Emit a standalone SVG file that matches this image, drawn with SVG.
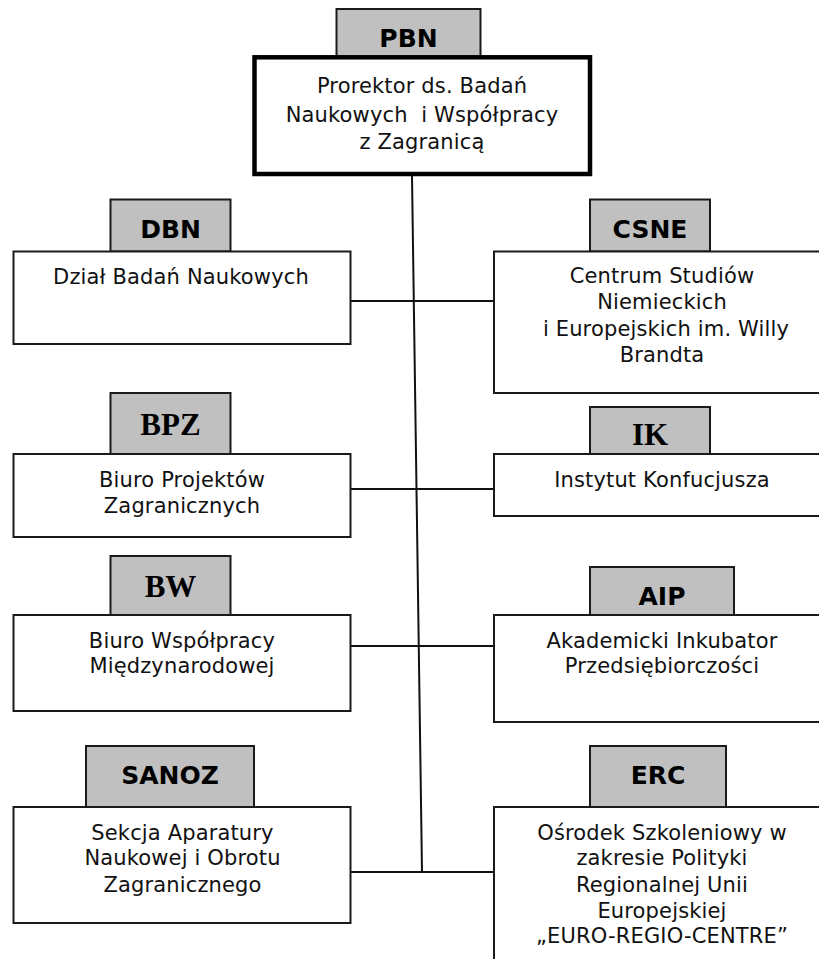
<svg xmlns="http://www.w3.org/2000/svg" width="819" height="959" viewBox="0 0 819 959">
<style>
.box{fill:#fff;stroke:#1a1a1a;stroke-width:2}
.tag{fill:#c0c0c0;stroke:#1a1a1a;stroke-width:2}
.main{fill:#fff;stroke:#000;stroke-width:4.5}
.t{font-family:"DejaVu Sans","Verdana",sans-serif;font-size:21px;letter-spacing:0.15px;fill:#111;text-anchor:middle}
.b{font-family:"DejaVu Sans","Verdana",sans-serif;font-size:25px;font-weight:bold;fill:#000;text-anchor:middle}
.s{font-family:"Liberation Serif","Times New Roman",serif;font-size:31px;font-weight:bold;fill:#000;text-anchor:middle}
.c{stroke:#111;stroke-width:2;fill:none}
</style>
<rect width="819" height="959" fill="#fff"/>
<g id="connectors">
<line class="c" x1="412" y1="176" x2="422" y2="872"/>
<line class="c" x1="350.5" y1="301" x2="494" y2="301"/>
<line class="c" x1="350.5" y1="489" x2="494" y2="489"/>
<line class="c" x1="350.5" y1="646" x2="494" y2="646"/>
<line class="c" x1="350.5" y1="872" x2="494" y2="872"/>
</g>
<g id="PBN">
<rect class="tag" x="336.5" y="9" width="144" height="48"/>
<text class="b" x="408.5" y="46.5">PBN</text>
<rect class="main" x="254.5" y="57.3" width="335.5" height="116.7"/>
<text class="t" x="422" y="93" xml:space="preserve">Prorektor ds. Badań</text>
<text class="t" x="422" y="121.5" xml:space="preserve">Naukowych  i Współpracy</text>
<text class="t" x="422" y="149">z Zagranicą</text>
</g>
<g id="DBN">
<rect class="tag" x="110.5" y="199.5" width="120" height="52"/>
<text class="b" x="170.5" y="237.5">DBN</text>
<rect class="box" x="13.5" y="251.5" width="337" height="92.5"/>
<text class="t" x="181" y="284">Dział Badań Naukowych</text>
</g>
<g id="CSNE">
<rect class="tag" x="590" y="199.5" width="120" height="52"/>
<text class="b" x="650" y="237.5">CSNE</text>
<rect class="box" x="494" y="251.5" width="345" height="141.5"/>
<text class="t" x="662" y="283">Centrum Studiów</text>
<text class="t" x="662" y="309">Niemieckich</text>
<text class="t" x="666" y="335.5">i Europejskich im. Willy</text>
<text class="t" x="662" y="361.5">Brandta</text>
</g>
<g id="BPZ">
<rect class="tag" x="110.5" y="393" width="120" height="61"/>
<text class="s" x="170.5" y="435">BPZ</text>
<rect class="box" x="13.5" y="454" width="337" height="83"/>
<text class="t" x="182" y="486.5">Biuro Projektów</text>
<text class="t" x="182" y="512.5">Zagranicznych</text>
</g>
<g id="IK">
<rect class="tag" x="590" y="407" width="120" height="47"/>
<text class="s" x="650" y="445">IK</text>
<rect class="box" x="494" y="454" width="345" height="62"/>
<text class="t" x="662" y="486.5">Instytut Konfucjusza</text>
</g>
<g id="BW">
<rect class="tag" x="110.5" y="556" width="120" height="59"/>
<text class="s" x="170.5" y="596.5">BW</text>
<rect class="box" x="13.5" y="615" width="337" height="96"/>
<text class="t" x="182" y="648">Biuro Współpracy</text>
<text class="t" x="182" y="673">Międzynarodowej</text>
</g>
<g id="AIP">
<rect class="tag" x="590" y="567" width="144" height="48"/>
<text class="b" x="662" y="605">AIP</text>
<rect class="box" x="494" y="615" width="345" height="107"/>
<text class="t" x="662" y="648">Akademicki Inkubator</text>
<text class="t" x="662" y="672.5">Przedsiębiorczości</text>
</g>
<g id="SANOZ">
<rect class="tag" x="86" y="746" width="168" height="61"/>
<text class="b" x="170" y="784">SANOZ</text>
<rect class="box" x="13.5" y="807" width="337" height="116"/>
<text class="t" x="182.5" y="840">Sekcja Aparatury</text>
<text class="t" x="182.5" y="865">Naukowej i Obrotu</text>
<text class="t" x="182.5" y="891.5">Zagranicznego</text>
</g>
<g id="ERC">
<rect class="tag" x="590" y="746" width="136" height="61"/>
<text class="b" x="658" y="784">ERC</text>
<rect class="box" x="494" y="807" width="345" height="200"/>
<text class="t" x="662" y="840">Ośrodek Szkoleniowy w</text>
<text class="t" x="662" y="865">zakresie Polityki</text>
<text class="t" x="662" y="891.5">Regionalnej Unii</text>
<text class="t" x="662" y="917.5">Europejskiej</text>
<text class="t" x="662" y="943">„EURO-REGIO-CENTRE”</text>
</g>
</svg>
